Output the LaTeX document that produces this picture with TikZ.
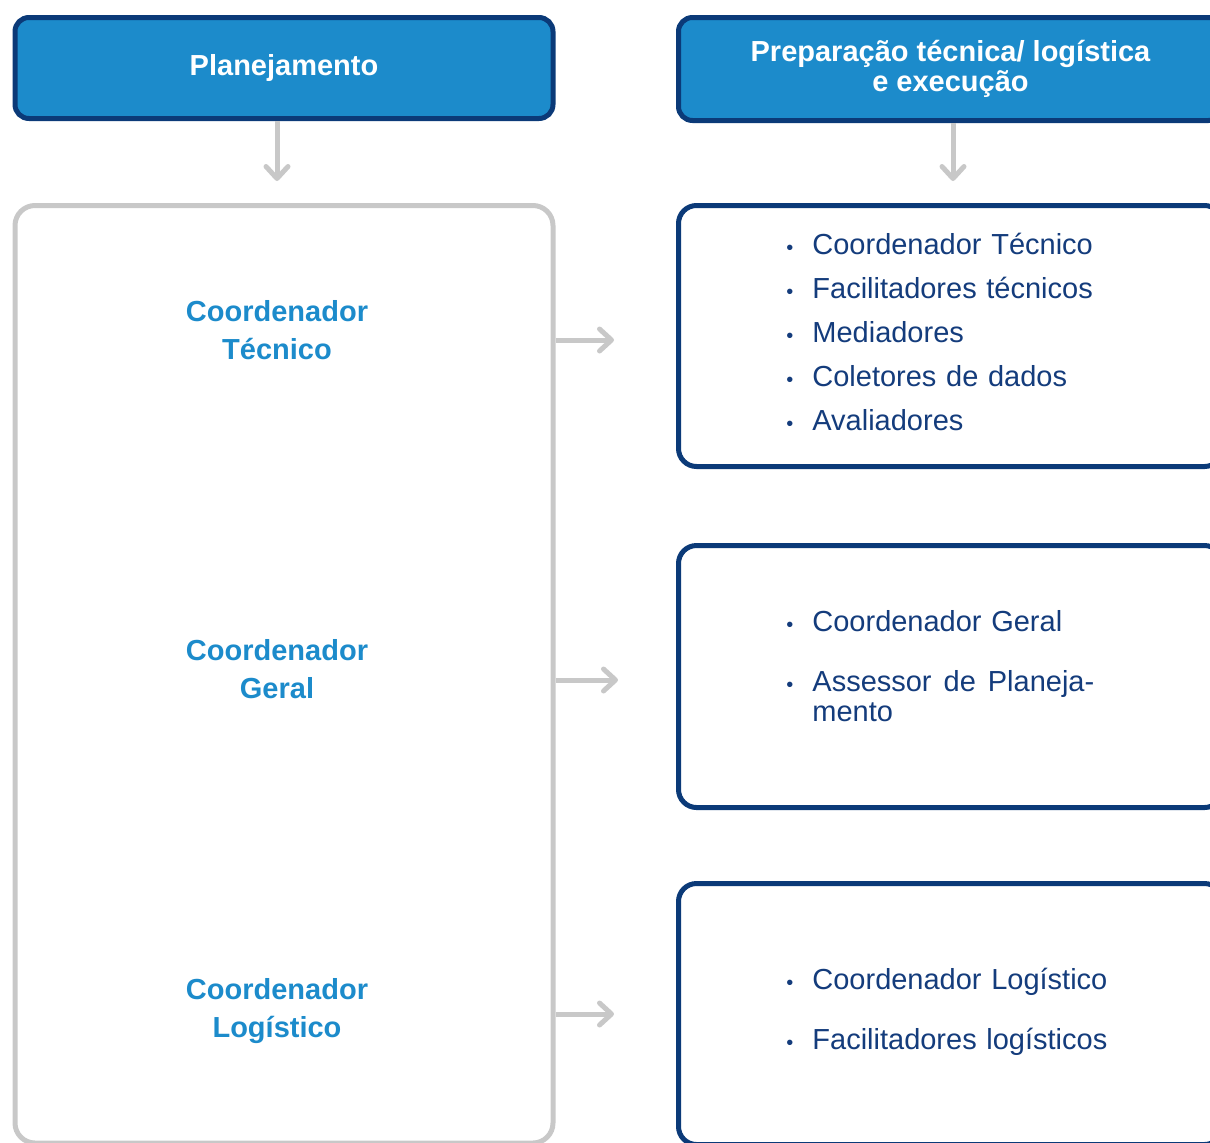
\documentclass[tikz,border=0pt]{standalone}
\usepackage{fontspec}
\setmainfont{Liberation Sans}
\usetikzlibrary{arrows.meta}

\definecolor{navy}{HTML}{0B3A78}
\definecolor{headblue}{HTML}{1C8BCB}
\definecolor{linegray}{HTML}{C8C8C8}
\definecolor{listblue}{HTML}{143C7C}

\newcommand{\itm}{\makebox[13pt][l]{\fontsize{10}{10}\selectfont\textbullet}}

\tikzset{
	header/.style={rounded corners=7pt, fill=headblue, draw=navy, line width=2.5pt, text=white, font=\bfseries\fontsize{14.5}{15}\selectfont, align=center},
	listbox/.style={rounded corners=9pt, draw=navy, line width=2.5pt, fill=white, minimum width=272pt},
	grayline/.style={draw=linegray, line width=2.5pt, -{Straight Barb[length=6pt,width=11pt,round]}},
	role/.style={text=headblue, font=\bfseries\fontsize{14.5}{19}\selectfont, text width=120pt, align=center, anchor=base, inner sep=0pt},
	items/.style={text=listblue, font=\fontsize{14.5}{22}\selectfont, text width=170pt, align=left, anchor=base west, inner sep=0pt}
}

\begin{document}
\begin{tikzpicture}[x=0.5pt, y=-0.5pt]
	\useasboundingbox (0,0) rectangle (1210,1142);
	\clip (0,0) rectangle (1210,1142);

	% headers
	\node[header, minimum width=269pt, minimum height=50.5pt](plan) at (284,68){Planejamento};
	\node[header, minimum width=272pt, minimum height=51.5pt](prep) at (950.5,69){Preparação técnica/ logística\\e execução};

	% boxes
	\node[rounded corners=10pt, draw=linegray, line width=2.5pt, minimum width=269pt, minimum height=468.75pt](plbox) at (284,674.25){};
	\node[listbox, minimum height=130.5pt](tec) at (950.5,336){};
	\node[listbox, minimum height=131pt](ger) at (950.5,676.5){};
	\node[listbox, minimum height=130.5pt](log) at (950.5,1014){};

	% roles in planning
	\node[role](ctec) at (277,321){Coordenador\\Técnico};
	\node[role](cger) at (277,660){Coordenador\\Geral};
	\node[role](clog) at (277,999){Coordenador\\Logístico};

	% teams
	\node[items](ltec) at (786,254){\itm Coordenador Técnico\\ \itm Facilitadores técnicos\\ \itm Mediadores\\ \itm Coletores de dados\\ \itm Avaliadores};
	\node[items](lger) at (786,631){\itm Coordenador Geral\\[8pt] \itm Assessor\hspace{6pt}de\hspace{6pt}Planeja-\\[-7pt] \hspace*{13pt}mento};
	\node[items](llog) at (786,989){\itm Coordenador Logístico\\[8pt] \itm Facilitadores logísticos};

	\coordinate (atec) at ([yshift=-2pt]tec.west);
	\coordinate (ager) at ([yshift=-1.75pt]ger.west);

	\draw[grayline, shorten >=11pt] ([xshift=-3.5pt]plan.south) -- ([xshift=-3.5pt]plbox.north);
	\draw[grayline, shorten >=11pt] ([xshift=1.25pt]prep.south) -- ([xshift=1.25pt]tec.north);
	\draw[grayline, shorten >=31pt] (plbox.east |- atec) -- (atec);
	\draw[grayline, shorten >=29pt] (plbox.east |- ager) -- (ager);
	\draw[grayline, shorten >=31pt] (plbox.east |- log.west) -- (log.west);
\end{tikzpicture}
\end{document}
